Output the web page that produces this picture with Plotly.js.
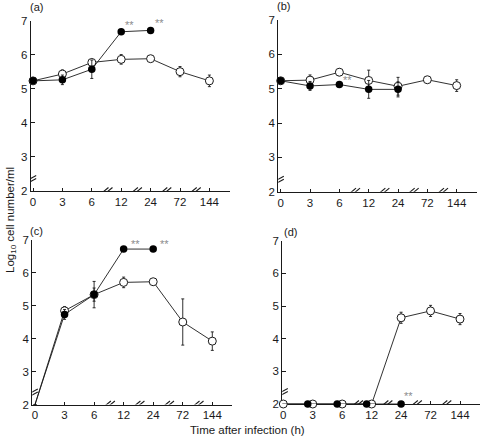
<!DOCTYPE html>
<html>
<head>
<meta charset="utf-8">
<script src="https://cdn.plot.ly/plotly-3.0.1.min.js"></script>
<style>html,body{margin:0;padding:0;background:#fff;}#chart{width:481px;height:437px;}</style>
</head>
<body>
<div id="chart"></div>
<script>
// ---- data ----
const times = ["0", "3", "6", "12", "24", "72", "144"];
const yTicks = [2, 3, 4, 5, 6, 7];

const aOpen = [5.23, 5.43, 5.77, 5.86, 5.88, 5.50, 5.23];
const aOpenErr = [0, 0.12, 0.08, 0.14, 0.05, 0.15, 0.17];
const aFilled = [5.23, 5.26, 5.57, 6.67, 6.71];
const aFilledErr = [0, 0.14, 0.27, 0.04, 0.04];
const aStars = [3, 4];

const bOpen = [5.23, 5.25, 5.48, 5.24, 5.07, 5.26, 5.09];
const bOpenErr = [0, 0.15, 0.10, 0.30, 0.26, 0.04, 0.17];
const bFilled = [5.23, 5.08, 5.12, 4.98, 4.98];
const bFilledErr = [0, 0.13, 0.08, 0.26, 0.22];
const bStars = [2];

const cOpen = [2, 4.84, 5.33, 5.70, 5.72, 4.50, 3.92];
const cOpenErr = [0, 0.13, 0.20, 0.16, 0.05, 0.70, 0.28];
const cFilled = [2, 4.73, 5.33, 6.71, 6.71];
const cFilledErr = [0, 0.15, 0.40, 0.07, 0.07];
const cStars = [3, 4];

const dOpen = [2, 2, 2, 2, 4.64, 4.85, 4.60];
const dOpenErr = [0, 0, 0, 0, 0.17, 0.17, 0.17];
const dFilled = [2, 2, 2, 2, 2];
const dFilledErr = [0, 0, 0, 0, 0];
const dStars = [4];

// ---- layout geometry (pixels) ----
const W = 481, H = 437;
const FONT = 'Liberation Sans, Arial, Helvetica, sans-serif';
const INK = '#1a1a1a';
const STAR = '#8c8c8c';
const panels = [
  {key: '', open: aOpen, openErr: aOpenErr, filled: aFilled, filledErr: aFilledErr, stars: aStars,
   xl: 30.7, xr: 230, yt: 20.5, yb: 191, x0: 33, step: 29.4, label: '(a)', lx: 36.7, ly: 7,
   starShift: [2, 7], hideFirst: false, filledShift: [0, 0, 0, 0, 0]},
  {key: '2', open: bOpen, openErr: bOpenErr, filled: bFilled, filledErr: bFilledErr, stars: bStars,
   xl: 278.3, xr: 476.7, yt: 20, yb: 191.7, x0: 280.7, step: 29.33, label: '(b)', lx: 283.3, ly: 6,
   starShift: [2, 5], hideFirst: false, filledShift: [0, 0, 0, 0, 0]},
  {key: '3', open: cOpen, openErr: cOpenErr, filled: cFilled, filledErr: cFilledErr, stars: cStars,
   xl: 32.3, xr: 231.7, yt: 239.5, yb: 404.5, x0: 35, step: 29.55, label: '(c)', lx: 36.7, ly: 230.7,
   starShift: [5, 5], hideFirst: true, filledShift: [0, 0, 0, 0, 0]},
  {key: '4', open: dOpen, openErr: dOpenErr, filled: dFilled, filledErr: dFilledErr, stars: dStars,
   xl: 282.3, xr: 480, yt: 240.7, yb: 404, x0: 283.3, step: 29.45, label: '(d)', lx: 290, ly: 231.7,
   starShift: [1, 8], hideFirst: false, filledShift: [-0.12, -0.17, -0.17, -0.17, 0]}
];

const traces = [];
const layout = {
  width: W, height: H,
  margin: {l: 0, r: 0, t: 0, b: 0},
  paper_bgcolor: '#ffffff', plot_bgcolor: 'rgba(0,0,0,0)',
  showlegend: false,
  font: {family: FONT, size: 11, color: INK},
  annotations: [], shapes: []
};

const idx = times.map((t, i) => i);

function slash(xref, yref, xa, ya, x0, y0, x1, y1) {
  return {type: 'line', xref: xref, yref: yref, xsizemode: 'pixel', ysizemode: 'pixel',
          xanchor: xa, yanchor: ya, x0: x0, y0: y0, x1: x1, y1: y1,
          line: {color: INK, width: 1.1}};
}

panels.forEach(p => {
  const xa = 'x' + p.key, ya = 'y' + p.key;
  const xrange = [(p.xl - p.x0) / p.step, (p.xr - p.x0) / p.step];
  layout['xaxis' + p.key] = {
    domain: [p.xl / W, p.xr / W], range: xrange, anchor: ya,
    tickmode: 'array', tickvals: idx, ticktext: times,
    ticks: 'inside', ticklen: 3, tickwidth: 1, tickcolor: INK,
    showline: true, linecolor: INK, linewidth: 1.1,
    showgrid: false, zeroline: false, layer: 'below traces',
    tickfont: {family: FONT, size: 11.5, color: INK}, fixedrange: true
  };
  layout['yaxis' + p.key] = {
    domain: [1 - p.yb / H, 1 - p.yt / H], range: [2, 7], anchor: xa,
    tickmode: 'array', tickvals: yTicks,
    ticks: 'inside', ticklen: 4, tickwidth: 1, tickcolor: INK,
    showline: true, linecolor: INK, linewidth: 1.1,
    showgrid: false, zeroline: false, layer: 'below traces',
    tickfont: {family: FONT, size: 11.5, color: INK}, fixedrange: true
  };

  const openSizes = p.open.map((v, i) => (p.hideFirst && i === 0) ? 0 : 8);
  const filledSizes = p.filled.map((v, i) => (p.hideFirst && i === 0) ? 0 : 7.5);

  traces.push({
    type: 'scatter', mode: 'lines+markers', xaxis: xa, yaxis: ya, cliponaxis: false,
    x: idx.slice(0, p.open.length), y: p.open,
    line: {color: INK, width: 0.9},
    marker: {symbol: 'circle', size: openSizes, color: 'white', opacity: 1,
             line: {color: INK, width: 1}},
    error_y: {type: 'data', array: p.openErr, visible: true, color: INK, thickness: 0.9, width: 1.5}
  });
  traces.push({
    type: 'scatter', mode: 'lines+markers', xaxis: xa, yaxis: ya, cliponaxis: false,
    x: p.filled.map((v, i) => i + p.filledShift[i]), y: p.filled,
    line: {color: INK, width: 0.9},
    marker: {symbol: 'circle', size: filledSizes, color: '#000000', opacity: 1,
             line: {color: '#000000', width: 0}},
    error_y: {type: 'data', array: p.filledErr, visible: true, color: INK, thickness: 0.9, width: 1.5}
  });

  // significance markers
  p.stars.forEach(i => {
    layout.annotations.push({
      xref: xa, yref: ya, x: i, y: p.filled[i], text: '**', showarrow: false,
      xanchor: 'left', yanchor: 'middle', xshift: p.starShift[0], yshift: p.starShift[1],
      font: {family: FONT, size: 11, color: STAR}
    });
  });

  // panel label
  layout.annotations.push({
    xref: 'paper', yref: 'paper', x: p.lx / W, y: 1 - p.ly / H, text: p.label, showarrow: false,
    xanchor: 'center', yanchor: 'middle', font: {family: FONT, size: 11, color: INK}
  });

  // x-axis breaks
  [2.5, 3.5, 4.5, 5.5].forEach(b => {
    layout.shapes.push(slash(xa, ya, b, 2, -6.5, -3.5, 2, 3.5));
    layout.shapes.push(slash(xa, ya, b, 2, -2.5, -3.5, 6, 3.5));
  });
  // y-axis break
  layout.shapes.push(slash(xa, ya, xrange[0], 2, -5.5, 6.5, 5.5, 12.5));
  layout.shapes.push(slash(xa, ya, xrange[0], 2, -5.5, 9.5, 5.5, 15.5));
});

// axis titles
layout.annotations.push({
  xref: 'paper', yref: 'paper', x: 11 / W, y: 1 - 220 / H, textangle: -90,
  text: 'Log<sub>10</sub> cell number/ml', showarrow: false, xanchor: 'center', yanchor: 'middle',
  font: {family: FONT, size: 11.5, color: INK}
});
layout.annotations.push({
  xref: 'paper', yref: 'paper', x: 247 / W, y: 1 - 430 / H,
  text: 'Time after infection (h)', showarrow: false, xanchor: 'center', yanchor: 'middle',
  font: {family: FONT, size: 11.5, color: INK}
});

Plotly.newPlot('chart', traces, layout, {displayModeBar: false, staticPlot: true});
</script>
</body>
</html>
